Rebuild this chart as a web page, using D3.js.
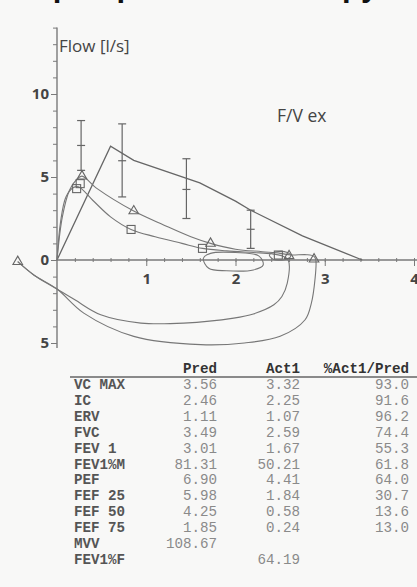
<!doctype html>
<html lang="en">
<head>
  <meta charset="utf-8">
  <title>F/V ex</title>
  <script src="https://d3js.org/d3.v7.min.js"></script>
  <style>
    body { margin: 0; background: #f8f8f7; }
    svg { display: block; }
    .axis path, .axis line { stroke: #7a7a7a; }
    .axis text { font: bold 15px "Open Sans", sans-serif; fill: #444; }
    .trace { fill: none; stroke: #777; stroke-width: 1.1px; }
    .pred { fill: none; stroke: #666; stroke-width: 1.3px; }
    .mark { fill: none; stroke: #666; stroke-width: 1.1px; }
    .tbl { font-family: "Liberation Mono", "Courier New", monospace; font-size: 14.2px; }
  </style>
</head>
<body>
<svg width="417" height="587"></svg>
<script>
  // predicted expiratory curve (volume l, flow l/s)
  var predVol  = [0, 0.60, 0.86, 1.60, 2.00, 2.17, 2.75, 3.42];
  var predFlow = [0, 6.85, 6.00, 4.65, 3.55, 3.00, 1.45, 0];

  // error bars of the predicted values
  var ebVol  = [0.27, 0.73, 1.45, 2.17];
  var ebMid  = [6.90, 5.98, 4.25, 1.85];
  var ebLow  = [5.40, 3.80, 2.50, 0.70];
  var ebHigh = [8.40, 8.20, 6.10, 3.00];

  // trial 1 (squares, Act1)
  var sqVol  = [0, 0.04, 0.10, 0.18, 0.24, 0.40, 0.60, 0.83, 1.10, 1.40, 1.63, 1.90, 2.20, 2.40, 2.52, 2.59,
                2.58, 2.52, 2.43, 2.20, 1.98, 1.42, 0.94, 0.49, 0.20, 0, -0.26, -0.44];
  var sqFlow = [0, 2.3, 3.8, 4.35, 4.41, 3.60, 2.60, 1.84, 1.40, 1.00, 0.70, 0.55, 0.45, 0.38, 0.25, 0,
                -1.4, -2.2, -2.7, -3.25, -3.5, -3.8, -3.8, -3.3, -2.4, -1.75, -0.9, -0.1];
  var sqMarkVol  = [0.22, 0.26, 0.83, 1.63, 2.48];
  var sqMarkFlow = [4.30, 4.60, 1.84, 0.70, 0.30];

  // trial 2 (triangles)
  var trVol  = [0, 0.06, 0.14, 0.22, 0.28, 0.45, 0.86, 1.20, 1.50, 1.72, 2.00, 2.30, 2.50, 2.62, 2.80, 2.88, 2.90,
                2.89, 2.85, 2.78, 2.50, 2.10, 1.61, 0.86, 0.30, 0, -0.26, -0.44];
  var trFlow = [0, 2.6, 4.2, 4.85, 5.05, 4.30, 2.95, 2.10, 1.40, 1.00, 0.65, 0.50, 0.40, 0.30, 0.32, 0.22, 0,
                -1.2, -2.6, -3.6, -4.6, -5.0, -5.1, -4.6, -3.2, -1.75, -0.9, -0.1];
  var trMarkVol  = [0.28, 0.86, 1.72, 2.60, 2.88, -0.44];
  var trMarkFlow = [5.05, 2.95, 1.00, 0.25, 0.05, -0.10];

  // tidal loops drawn on the volume axis
  var loopVol  = [1.64, 1.70, 1.90, 2.20, 2.31, 2.26, 2.00, 1.72];
  var loopFlow = [0.10, -0.50, -0.65, -0.60, -0.30, 0.25, 0.45, 0.40];
  var loop2Vol  = [2.38, 2.42, 2.55, 2.62, 2.58, 2.45];
  var loop2Flow = [0.30, 0.05, 0.02, 0.25, 0.45, 0.48];

  var volLabels = [1, 2, 3, 4];
  var flowLabels = [10, 5, 0, -5];

  // table
  var rowLabels = ["VC MAX", "IC", "ERV", "FVC", "FEV 1", "FEV1%M", "PEF", "FEF 25", "FEF 50", "FEF 75", "MVV", "FEV1%F"];
  var predValues = ["3.56", "2.46", "1.11", "3.49", "3.01", "81.31", "6.90", "5.98", "4.25", "1.85", "108.67", ""];
  var actValues  = ["3.32", "2.25", "1.07", "2.59", "1.67", "50.21", "4.41", "1.84", "0.58", "0.24", "", "64.19"];
  var pctValues  = ["93.0", "91.6", "96.2", "74.4", "55.3", "61.8", "64.0", "30.7", "13.6", "13.0", "", ""];
  var headers = ["Pred", "Act1", "%Act1/Pred"];

  var svg = d3.select("svg");

  var x = d3.scaleLinear().domain([0, 4]).range([57, 414]);
  var y = d3.scaleLinear().domain([0, 10]).range([260, 94]);

  // cropped page title
  svg.append("text")
    .attr("x", -30).attr("y", -4)
    .style("font", "bold 31px 'Liberation Sans', Arial, sans-serif")
    .style("fill", "#111")
    .text("Example: peak flow therapy");

  // x axis
  svg.append("line")
    .attr("x1", x(0)).attr("x2", 417)
    .attr("y1", y(0)).attr("y2", y(0))
    .attr("stroke", "#7a7a7a").attr("stroke-width", 1.4);

  svg.append("g").attr("class", "axis")
    .attr("transform", "translate(0," + (y(0) - 2) + ")")
    .call(d3.axisBottom(x).tickValues(d3.range(0.2, 4.05, 0.2)).tickSize(4).tickFormat(""))
    .call(function (g) { g.select(".domain").remove(); });

  svg.append("g").attr("class", "axis")
    .attr("transform", "translate(0," + y(0) + ")")
    .call(d3.axisBottom(x).tickValues(volLabels).tickSize(6).tickPadding(7).tickFormat(d3.format("d")))
    .call(function (g) { g.select(".domain").remove(); });

  // y axis
  svg.append("line")
    .attr("x1", x(0)).attr("x2", x(0))
    .attr("y1", y(14)).attr("y2", y(-5.3))
    .attr("stroke", "#7a7a7a").attr("stroke-width", 1.4);

  svg.append("g").attr("class", "axis")
    .attr("transform", "translate(" + x(0) + ",0)")
    .call(d3.axisLeft(y).tickValues(d3.range(-5, 15, 1)).tickSize(4).tickFormat(""))
    .call(function (g) { g.select(".domain").remove(); });

  svg.append("g").attr("class", "axis")
    .attr("transform", "translate(" + x(0) + ",0)")
    .call(d3.axisLeft(y).tickValues(flowLabels).tickSize(6).tickPadding(2).tickFormat(function (d) { return Math.abs(d); }))
    .call(function (g) { g.select(".domain").remove(); });

  svg.append("text")
    .attr("x", 59).attr("y", 52)
    .style("font", "17px 'Open Sans', sans-serif").style("fill", "#444")
    .text("Flow [l/s]");

  svg.append("text")
    .attr("x", 277).attr("y", 122)
    .style("font", "17.5px 'Open Sans', sans-serif").style("fill", "#444")
    .text("F/V ex");

  var lin = d3.line().x(function (d) { return x(d[0]); }).y(function (d) { return y(d[1]); });
  var smooth = d3.line().curve(d3.curveCatmullRom.alpha(0.5))
    .x(function (d) { return x(d[0]); }).y(function (d) { return y(d[1]); });
  var loopLine = d3.line().curve(d3.curveCatmullRomClosed.alpha(0.5))
    .x(function (d) { return x(d[0]); }).y(function (d) { return y(d[1]); });

  svg.append("path").attr("class", "pred").attr("d", lin(d3.zip(predVol, predFlow)));
  svg.append("path").attr("class", "trace").attr("d", smooth(d3.zip(sqVol, sqFlow)));
  svg.append("path").attr("class", "trace").attr("d", smooth(d3.zip(trVol, trFlow)));
  svg.append("path").attr("class", "trace").attr("d", loopLine(d3.zip(loopVol, loopFlow)));
  svg.append("path").attr("class", "trace").attr("d", loopLine(d3.zip(loop2Vol, loop2Flow)));

  // error bars
  var eb = svg.append("g").attr("stroke", "#666").attr("stroke-width", 1.2);
  ebVol.forEach(function (v, i) {
    var cx = x(v);
    eb.append("line").attr("x1", cx).attr("x2", cx).attr("y1", y(ebHigh[i])).attr("y2", y(ebLow[i]));
    [ebHigh[i], ebMid[i], ebLow[i]].forEach(function (f) {
      eb.append("line").attr("x1", cx - 4).attr("x2", cx + 4).attr("y1", y(f)).attr("y2", y(f));
    });
  });

  // markers
  svg.selectAll(".sq").data(d3.zip(sqMarkVol, sqMarkFlow)).enter().append("rect")
    .attr("class", "mark")
    .attr("x", function (d) { return x(d[0]) - 4; }).attr("y", function (d) { return y(d[1]) - 4; })
    .attr("width", 8).attr("height", 8);

  svg.selectAll(".tri").data(d3.zip(trMarkVol, trMarkFlow)).enter().append("path")
    .attr("class", "mark")
    .attr("transform", function (d) { return "translate(" + x(d[0]) + "," + y(d[1]) + ")"; })
    .attr("d", d3.symbol().type(d3.symbolTriangle).size(40));

  // table
  var tbl = svg.append("g").attr("class", "tbl");
  var rowY = d3.scaleLinear().domain([0, 11]).range([389, 564]);
  var colX = [217, 300, 409];

  tbl.selectAll(".hd").data(headers).enter().append("text")
    .attr("x", function (d, i) { return colX[i]; }).attr("y", 373)
    .attr("text-anchor", "end")
    .style("font-weight", "bold").style("fill", "#333")
    .text(function (d) { return d; });

  tbl.append("line")
    .attr("x1", 70).attr("x2", 417).attr("y1", 377).attr("y2", 377)
    .attr("stroke", "#666").attr("stroke-width", 1.3);

  tbl.selectAll(".lb").data(rowLabels).enter().append("text")
    .attr("x", 74).attr("y", function (d, i) { return rowY(i); })
    .style("font-weight", "bold").style("fill", "#555")
    .text(function (d) { return d; });

  [predValues, actValues, pctValues].forEach(function (col, c) {
    tbl.selectAll(".c" + c).data(col).enter().append("text")
      .attr("x", colX[c]).attr("y", function (d, i) { return rowY(i); })
      .attr("text-anchor", "end")
      .style("fill", "#8a8a8a")
      .text(function (d) { return d; });
  });
</script>
</body>
</html>
